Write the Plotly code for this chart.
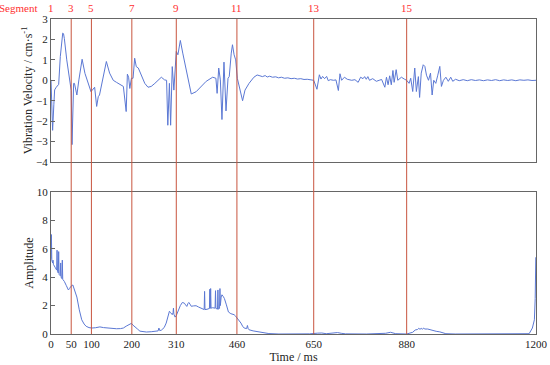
import plotly.graph_objects as go
from plotly.subplots import make_subplots

# ---- Data ----
vel_time = [0, 4, 7, 9, 13, 19, 23, 29, 31, 33, 39, 46, 50, 52, 56, 58, 64, 69, 77, 84, 93, 99, 101, 105,
            108, 113, 117, 120, 124, 131, 137, 145, 154, 162, 170, 179, 186, 189, 192, 195, 199, 203,
            207, 211, 216, 224, 232, 240, 248, 257, 265, 273, 281, 286, 289, 293, 296, 300, 304, 307,
            310, 314, 320, 326, 333, 339, 347, 359, 371, 384, 400, 408, 411, 415, 419, 423, 428, 433,
            438, 441, 446, 449, 453, 457, 461, 467, 474, 480, 490, 502, 510, 517, 523, 530, 535, 541,
            548, 556, 563, 570, 578, 586, 594, 602, 610, 618, 626, 634, 642, 650, 658, 664, 668, 672,
            677, 682, 686, 691, 699, 705, 711, 715, 719, 726, 733, 739, 744, 752, 760, 766, 772, 776,
            780, 784, 788, 796, 805, 812, 818, 826, 830, 834, 838, 842, 846, 849, 854, 858, 867, 875,
            880, 886, 890, 895, 900, 904, 909, 912, 916, 921, 925, 929, 934, 939, 943, 947, 952, 957,
            962, 966, 971, 977, 983, 989, 994, 1001, 1010, 1020, 1030, 1040, 1050, 1060, 1070, 1080,
            1090, 1100, 1110, 1120, 1130, 1140, 1150, 1160, 1170, 1180, 1190, 1200]
vel_value = [0.02, -2.45, -1.2, -0.47, -0.34, -0.2, 1.16, 2.31, 2.28, 2.05, 1.0, 0.02, -0.5, -3.15, -0.15,
             -0.15, -0.72, 0.02, 1.03, 0.34, -0.15, -0.56, -0.51, -0.38, -0.34, -1.28, -0.8, -0.72,
             -0.34, 0.3, 0.92, 0.35, 0.0, -0.1, -0.2, -0.3, -1.53, 0.3, 0.15, -0.4, 0.1, 0.1, 1.08,
             0.67, 0.6, 0.18, -0.15, -0.34, -0.3, -0.15, 0.02, 0.15, 0.02, 0.0, -2.2, -0.15, -2.2,
             0.67, -0.48, 0.75, 1.41, 1.25, 1.95, 1.33, 0.67, 0.18, -0.67, -0.56, -0.3, -0.05, 0.15,
             0.1, -0.64, 0.6, 0.02, -1.92, 0.89, -1.5, 0.1, 0.18, 1.33, 1.74, 1.25, 1.0, 0.1, -0.4,
             -1.0, -0.48, -0.15, 0.15, 0.26, 0.22, 0.18, 0.23, 0.16, 0.2, 0.15, 0.17, 0.12, 0.15,
             0.1, 0.12, 0.08, 0.1, 0.06, 0.08, 0.04, 0.05, 0.02, 0.0, -0.44, 0.27, 0.06, 0.19,
             0.08, 0.19, -0.02, 0.03, 0.0, 0.02, -0.5, 0.32, 0.0, 0.15, 0.05, 0.02, 0.0, 0.03,
             -0.1, 0.15, 0.08, 0.18, 0.05, 0.18, 0.0, 0.08, -0.05, 0.0, 0.04, -0.34, 0.15, -0.22,
             0.22, -0.22, 0.48, -0.1, 0.52, 0.0, 0.15, 0.05, 0.0, -0.15, 0.1, -0.55, 0.6, -0.55,
             0.18, -0.84, 0.35, 0.76, 0.68, 0.25, 0.0, 0.35, -0.72, 0.0, -0.15, 0.25, 0.68, -0.3,
             0.0, 0.15, -0.05, 0.15, -0.05, 0.05, -0.02, 0.03, -0.02, 0.03, -0.01, 0.02, -0.02,
             0.02, -0.01, 0.03, -0.02, 0.02, -0.01, 0.02, -0.02, 0.02, 0.0, 0.02, -0.01, 0.0]

amp_time = [0, 1, 2, 4, 5, 6, 10, 14, 15, 16, 18, 19, 20, 23, 24, 25, 27, 28, 29, 33, 38, 43, 46, 49,
            54, 58, 64, 70, 76, 82, 87, 94, 101, 110, 116, 121, 130, 138, 150, 162, 172, 179, 186,
            191, 195, 199, 203, 207, 214, 220, 228, 236, 248, 261, 265, 267, 269, 273, 280, 285, 290,
            293, 296, 300, 302, 303, 304, 307, 310, 314, 320, 325, 330, 333, 336, 339, 341, 344, 347,
            353, 359, 365, 371, 376, 379, 380, 381, 386, 392, 393, 394, 395, 396, 400, 406, 407, 408,
            412, 413, 414, 417, 418, 419, 421, 423, 426, 429, 434, 439, 445, 450, 453, 457, 461, 466,
            470, 474, 478, 484, 486, 488, 490, 500, 515, 530, 539, 564, 600, 640, 660, 670, 681, 700,
            709, 718, 729, 780, 815, 828, 840, 853, 880, 888, 895, 901, 907, 910, 913, 916, 919, 922,
            925, 932, 940, 953, 962, 969, 977, 1000, 1100, 1183, 1191, 1196, 1198, 1199.5]
amp_value = [5.3, 7.0, 5.2, 5.0, 5.2, 4.9, 4.7, 4.5, 5.9, 4.4, 4.3, 5.8, 4.2, 4.1, 5.0, 4.0, 3.9, 5.2,
             3.85, 3.7, 3.4, 3.1, 3.2, 3.35, 3.45, 3.1, 2.6, 1.7, 1.0, 0.7, 0.54, 0.45, 0.42, 0.44,
             0.47, 0.5, 0.45, 0.42, 0.4, 0.37, 0.38, 0.42, 0.55, 0.65, 0.72, 0.75, 0.62, 0.54, 0.35,
             0.2, 0.15, 0.14, 0.16, 0.19, 0.22, 0.42, 0.24, 0.27, 0.45, 0.77, 1.3, 1.6, 1.5, 1.36,
             1.5, 1.82, 1.4, 1.19, 1.3, 1.6, 2.0, 2.22, 2.17, 2.05, 1.94, 2.15, 2.22, 2.1, 1.95, 1.98,
             1.99, 1.9, 1.82, 1.75, 1.72, 3.0, 1.72, 1.74, 1.8, 3.15, 1.8, 3.2, 1.82, 1.85, 1.82,
             3.05, 1.8, 1.75, 3.1, 1.75, 1.8, 3.2, 2.0, 2.6, 2.76, 2.65, 2.5, 2.05, 1.55, 1.43, 1.4,
             1.36, 1.25, 1.12, 0.9, 0.77, 0.55, 0.42, 0.38, 0.6, 0.36, 0.3, 0.22, 0.14, 0.06, 0.03,
             0.0, 0.0, 0.01, 0.06, 0.07, 0.02, 0.04, 0.1, 0.05, 0.01, 0.0, 0.02, 0.05, 0.12, 0.02,
             0.0, 0.05, 0.12, 0.28, 0.32, 0.4, 0.33, 0.4, 0.33, 0.42, 0.35, 0.35, 0.28, 0.19, 0.15,
             0.08, 0.02, 0.0, 0.0, 0.02, 0.42, 1.0, 2.5, 5.4]

segment_times = [0, 50, 100, 200, 310, 460, 650, 880]
segment_labels = ["1", "3", "5", "7", "9", "11", "13", "15"]
boundary_times = [50, 100, 200, 310, 460, 650, 880]
x_tickvals = [0, 50, 100, 200, 310, 460, 650, 880, 1200]

# ---- Figure ----
LINE = "#5b78d4"
RED = "#c8553f"
FRAME = "#666666"
SERIF = "Liberation Serif, Times New Roman, serif"

fig = make_subplots(rows=2, cols=1, shared_xaxes=False, vertical_spacing=0.095,
                    row_heights=[0.5, 0.5])

fig.add_trace(go.Scatter(x=vel_time, y=vel_value, mode="lines",
                         line=dict(color=LINE, width=1), showlegend=False), row=1, col=1)
fig.add_trace(go.Scatter(x=amp_time, y=amp_value, mode="lines",
                         line=dict(color=LINE, width=1), showlegend=False), row=2, col=1)

for t in boundary_times:
    fig.add_shape(type="line", xref="x2", yref="paper", x0=t, x1=t, y0=0, y1=1,
                  line=dict(color=RED, width=1), layer="above")

for t, lab in zip(segment_times, segment_labels):
    fig.add_annotation(x=t, y=1.036, xref="x2", yref="paper", text=lab, showarrow=False,
                       font=dict(family=SERIF, size=11, color="#ff3030"),
                       xanchor="center", yanchor="middle")
fig.add_annotation(x=-0.068, y=1.036, xref="paper", yref="paper", text="Segment",
                   showarrow=False, font=dict(family=SERIF, size=11, color="#ff3030"),
                   xanchor="center", yanchor="middle")

axis_common = dict(showline=True, linecolor=FRAME, linewidth=1, mirror=True,
                   showgrid=False, zeroline=False, tickcolor=FRAME, automargin=False,
                   tickfont=dict(family=SERIF, size=11, color="#222"))

fig.update_xaxes(range=[0, 1200], tickvals=x_tickvals, ticks="", showticklabels=False,
                 row=1, col=1, **axis_common)
fig.update_xaxes(range=[0, 1200], tickvals=x_tickvals, ticks="", showticklabels=True,
                 title=dict(text="Time / ms", font=dict(family=SERIF, size=12, color="#222"),
                            standoff=0),
                 row=2, col=1, **axis_common)
fig.update_yaxes(range=[-4, 3], dtick=1, ticks="inside", ticklen=4, row=1, col=1,
                 ticklabelstandoff=0,
                 title=dict(text="Vibration Velocity / cm·s<sup>-1</sup>",
                            font=dict(family=SERIF, size=12, color="#222"), standoff=0),
                 **axis_common)
fig.update_yaxes(range=[0, 10], dtick=2, ticks="inside", ticklen=4, row=2, col=1,
                 ticklabelstandoff=0,
                 title=dict(text="Amplitude", font=dict(family=SERIF, size=12, color="#222"),
                            standoff=0),
                 **axis_common)

fig.update_layout(
    width=550, height=365,
    margin=dict(l=51, r=14, t=19, b=31),
    plot_bgcolor="white", paper_bgcolor="white",
    font=dict(family=SERIF),
)
fig.layout.yaxis.domain = [0.546, 1.0]
fig.layout.yaxis2.domain = [0.0, 0.451]

fig.write_html("out.html", config={"displayModeBar": False},
               post_script="document.body.style.margin='0px';")
